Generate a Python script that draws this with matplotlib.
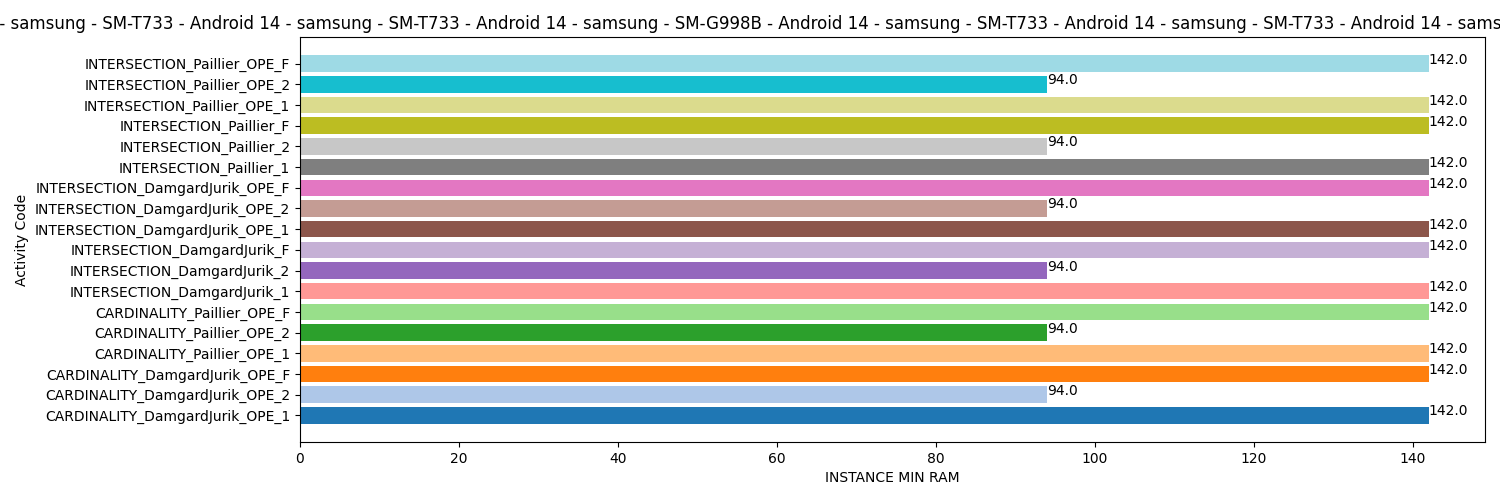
import numpy as np
import matplotlib
matplotlib.use("Agg")
import matplotlib.pyplot as plt

activities = [
    "CARDINALITY_DamgardJurik_OPE_1", "CARDINALITY_DamgardJurik_OPE_2", "CARDINALITY_DamgardJurik_OPE_F",
    "CARDINALITY_Paillier_OPE_1", "CARDINALITY_Paillier_OPE_2", "CARDINALITY_Paillier_OPE_F",
    "INTERSECTION_DamgardJurik_1", "INTERSECTION_DamgardJurik_2", "INTERSECTION_DamgardJurik_F",
    "INTERSECTION_DamgardJurik_OPE_1", "INTERSECTION_DamgardJurik_OPE_2", "INTERSECTION_DamgardJurik_OPE_F",
    "INTERSECTION_Paillier_1", "INTERSECTION_Paillier_2", "INTERSECTION_Paillier_F",
    "INTERSECTION_Paillier_OPE_1", "INTERSECTION_Paillier_OPE_2", "INTERSECTION_Paillier_OPE_F",
]
values = [142.0, 94.0, 142.0, 142.0, 94.0, 142.0,
          142.0, 94.0, 142.0, 142.0, 94.0, 142.0,
          142.0, 94.0, 142.0, 142.0, 94.0, 142.0]
devices = ["SM-T733"] * 15 + ["SM-G998B"] * 3
devices[8] = "SM-G998B"
title = " - ".join(f"samsung - {d} - Android 14" for d in devices)

colors = plt.cm.tab20(np.linspace(0, 1, len(activities)))

fig, ax = plt.subplots(figsize=(15, 5), dpi=100)
fig.subplots_adjust(left=0.2, right=0.99, top=0.926, bottom=0.116)
y = np.arange(len(activities))
ax.barh(y, values, color=colors)
for yi, v in zip(y, values):
    ax.text(v, yi, str(v))
ax.set_yticks(y)
ax.set_yticklabels(activities)
ax.set_xlabel("INSTANCE MIN RAM")
ax.set_ylabel("Activity Code")
ax.set_title(title)
fig.savefig("out.png")
